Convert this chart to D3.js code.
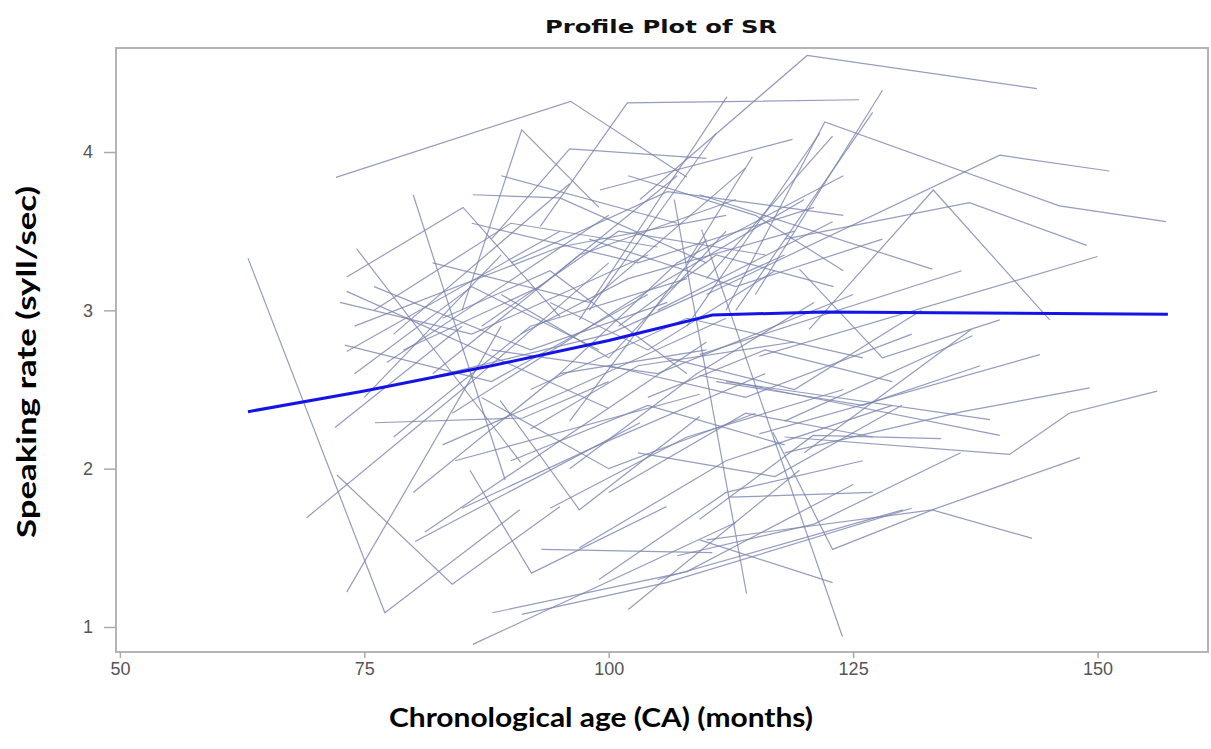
<!DOCTYPE html>
<html>
<head>
<meta charset="utf-8">
<script src="https://cdn.jsdelivr.net/npm/d3@7"></script>
<style>
  body { margin: 0; background: #fff; }
</style>
</head>
<body>
<div id="chart"></div>
<script>
// ages (months) and speaking rates for each child, same index in both lists
const subjectAges = [
    [72.1, 96.1, 108.0], [93.0, 101.9, 125.6], [103.2, 120.3, 143.8], [112.0, 122.1, 146.1, 157.0],
    [110.0, 140.0, 151.2], [118.0, 136.9, 148.9], [120.5, 133.2, 145.1], [109.3, 133.1],
    [109.3, 136.1], [115.4, 150.0], [115.4, 144.1], [118.0, 141.0, 147.1, 156.1],
    [118.0, 136.2, 149.2], [110.0, 133.1, 148.2], [116.8, 122.9, 133.1, 143.3], [109.5, 123.9],
    [106.7, 114.1], [109.3, 122.9], [119.5, 128.0, 140.0], [112.4, 127.0],
    [85.8, 92.1, 105.9], [93.1, 110.6], [88.9, 97.0, 109.3], [86.1, 113.0],
    [91.1, 105.9, 131.0], [102.0, 119.5], [63.1, 77.1, 90.9], [73.2, 89.0],
    [69.1, 86.0, 100.0], [72.2, 84.0, 95.0], [72.0, 85.0], [76.1, 91.2, 100.0],
    [73.2, 95.0], [73.0, 88.0, 104.0], [77.3, 100.0], [84.3, 109.3],
    [80.2, 103.2], [81.2, 110.0], [88.1, 108.0, 125.0], [73.2, 85.1, 95.0],
    [74.2, 91.0], [80.0, 89.4], [73.2, 100.0], [86.1, 95.0, 110.0],
    [85.0, 91.1, 99.0], [97.0, 112.1], [88.0, 96.0, 110.0], [98.0, 111.0],
    [99.1, 118.8], [108.0, 114.7], [115.0, 128.0], [113.0, 127.0],
    [108.0, 121.6], [110.0, 122.9], [105.0, 122.9], [120.0, 137.1],
    [118.0, 137.2], [112.0, 139.0], [109.3, 140.0], [109.3, 120.9, 134.0],
    [105.0, 130.1], [72.5, 86.0, 104.0], [74.0, 95.0, 112.0], [76.0, 92.0, 106.0],
    [78.0, 96.0], [80.0, 100.0, 118.0], [82.0, 98.0, 114.0], [84.0, 102.0, 120.0],
    [86.0, 103.0, 121.0], [88.0, 105.0, 125.0], [90.0, 106.0, 124.0], [92.0, 108.0, 126.0],
    [94.0, 104.0, 117.0], [96.0, 110.0], [98.0, 113.0, 128.0], [100.0, 114.0, 131.0],
    [102.0, 115.0, 124.0], [90.0, 104.0, 118.0], [85.0, 99.0, 116.0], [94.0, 108.0, 124.0],
    [97.0, 112.0, 129.0], [80.0, 95.0, 110.0], [103.0, 117.0, 130.0], [106.0, 119.0, 132.0],
    [83.0, 94.0, 108.0], [75.0, 89.0], [99.0, 112.0, 126.0], [107.0, 121.0, 136.0],
    [111.0, 126.0, 138.0], [89.0, 107.0], [76.0, 90.0, 105.0], [79.0, 93.0, 107.0],
    [82.0, 97.0, 113.0], [87.0, 101.0, 116.0], [91.0, 102.0, 119.0], [95.0, 107.0, 124.0],
    [78.0, 92.0, 108.0], [83.0, 96.0, 112.0], [87.0, 100.0, 115.0], [92.0, 103.0, 119.0],
    [96.0, 109.0, 121.0], [100.0, 114.0, 127.0], [104.0, 116.0, 129.0], [74.0, 86.0, 99.0],
    [89.0, 100.0, 112.0], [101.0, 111.0, 123.0]
];
const subjectRates = [
    [3.84, 4.32, 3.84], [3.53, 4.31, 4.33], [3.70, 4.61, 4.40], [3.00, 4.19, 3.66, 3.56],
    [3.10, 3.98, 3.88], [3.45, 3.68, 3.41], [2.88, 3.76, 2.94], [3.73, 3.26],
    [2.72, 3.25], [2.71, 3.34], [2.22, 2.72], [2.20, 2.09, 2.35, 2.49],
    [2.10, 2.36, 2.51], [1.55, 1.74, 2.07], [2.23, 1.49, 1.74, 1.56], [3.51, 0.94],
    [3.70, 1.21], [1.55, 1.28], [3.26, 2.70, 2.94], [1.82, 1.85],
    [1.99, 1.34, 1.76], [1.49, 1.47], [2.43, 1.74, 2.33], [0.89, 1.66],
    [1.08, 1.28, 1.75], [1.11, 1.99], [3.33, 1.09, 1.74], [1.22, 2.90],
    [1.69, 2.55, 3.30], [1.96, 1.27, 1.76], [2.26, 2.90], [2.29, 2.32, 2.55],
    [2.74, 3.50], [2.78, 2.55, 3.10], [2.67, 3.60], [2.05, 2.47],
    [1.54, 2.29], [1.60, 2.80], [1.09, 1.35, 1.90], [3.21, 3.65, 2.96],
    [3.39, 2.04], [3.73, 1.93], [3.12, 2.38], [3.73, 3.71, 3.30],
    [3.00, 4.14, 3.65], [2.94, 4.35], [3.45, 4.02, 3.96], [3.00, 4.12],
    [3.76, 4.08], [3.30, 3.97], [3.10, 4.39], [3.00, 4.25],
    [2.90, 4.12], [3.20, 4.10], [3.00, 3.56], [2.10, 2.88],
    [2.30, 2.84], [2.55, 2.31], [2.59, 2.21], [1.68, 2.21, 2.19],
    [1.30, 1.74], [3.05, 2.85, 3.35], [2.90, 3.40, 3.60], [3.15, 2.75, 3.05],
    [2.85, 3.80], [2.55, 2.85, 3.35], [3.30, 3.05, 3.90], [2.35, 3.05, 3.70],
    [3.55, 3.30, 3.65], [2.75, 2.60, 3.10], [3.30, 3.75, 3.60], [2.50, 2.95, 2.70],
    [3.05, 2.75, 3.25], [2.30, 3.45], [3.45, 3.15, 3.45], [2.65, 2.45, 2.85],
    [3.85, 3.60, 3.25], [2.05, 2.40, 2.15], [1.75, 2.15, 2.60], [1.75, 2.20, 2.50],
    [1.50, 2.05, 2.40], [1.85, 2.60, 2.75], [2.10, 1.95, 2.40], [2.70, 2.50, 3.00],
    [2.95, 3.25, 2.60], [2.45, 3.35], [1.30, 1.85, 2.05], [1.45, 1.65, 2.10],
    [2.55, 2.40, 2.65], [3.85, 3.55], [3.00, 3.55, 3.40], [2.75, 3.15, 3.85],
    [2.60, 3.35, 3.70], [2.90, 3.50, 3.35], [2.85, 3.20, 3.50], [2.60, 3.30, 3.85],
    [2.20, 2.90, 3.20], [2.15, 2.50, 2.95], [2.45, 2.00, 2.35], [2.25, 2.65, 2.80],
    [2.00, 2.60, 3.05], [1.85, 2.35, 2.20], [2.45, 2.75, 2.55], [2.60, 3.15, 2.75],
    [3.10, 2.70, 3.50], [2.90, 3.35, 3.15]
];

// overall mean profile
const meanAges = [63.1, 75, 88, 100, 110.6, 122, 157.2];
const meanRates = [2.36, 2.49, 2.65, 2.81, 2.97, 2.99, 2.975];

const xTicks = [50, 75, 100, 125, 150];
const yTicks = [1, 2, 3, 4];

function init() {
    const w = 1211;
    const h = 749;
    const left = 116, right = 1208, top = 48, bottom = 652;

    const x = d3.scaleLinear().domain([49.6, 161.3]).range([left, right]);
    const y = d3.scaleLinear().domain([0.842, 4.657]).range([bottom, top]);

    const svg = d3.select("#chart")
        .append("svg")
        .attr("width", w)
        .attr("height", h);

    const line = d3.line()
        .x(function (d) { return x(d[0]); })
        .y(function (d) { return y(d[1]); });

    let profiles = [];
    for (let i = 0; i < subjectAges.length; i++) {
        profiles.push(subjectAges[i].map(function (a, j) { return [a, subjectRates[i][j]]; }));
    }

    svg.append("g")
        .selectAll("path")
        .data(profiles)
        .enter()
        .append("path")
        .attr("d", line)
        .attr("fill", "none")
        .attr("stroke", "#7a83ad")
        .attr("stroke-opacity", 0.8)
        .attr("stroke-width", 1.2);

    const meanData = meanAges.map(function (a, i) { return [a, meanRates[i]]; });
    svg.append("path")
        .datum(meanData)
        .attr("d", line)
        .attr("fill", "none")
        .attr("stroke", "#1414e6")
        .attr("stroke-width", 3);

    // frame
    svg.append("rect")
        .attr("x", left)
        .attr("y", top)
        .attr("width", right - left)
        .attr("height", bottom - top)
        .attr("fill", "none")
        .attr("stroke", "#b4b4b4")
        .attr("stroke-width", 2);

    const xAxis = svg.append("g")
        .attr("transform", "translate(0," + bottom + ")")
        .call(d3.axisBottom(x).tickValues(xTicks).tickSize(6).tickPadding(4).tickSizeOuter(0));
    const yAxis = svg.append("g")
        .attr("transform", "translate(" + left + ",0)")
        .call(d3.axisLeft(y).tickValues(yTicks).tickFormat(d3.format("d")).tickSize(12).tickPadding(11).tickSizeOuter(0));

    [xAxis, yAxis].forEach(function (g) {
        g.select(".domain").remove();
        g.selectAll(".tick line").attr("stroke", "#aaaaaa").attr("stroke-width", 1.5);
        g.selectAll(".tick text")
            .attr("fill", "#555")
            .style("font-family", "'Liberation Sans', Arial, sans-serif")
            .style("font-size", "18px");
    });

    svg.append("text")
        .attr("x", 661)
        .attr("y", 33)
        .attr("text-anchor", "middle")
        .attr("textLength", 232)
        .attr("lengthAdjust", "spacingAndGlyphs")
        .style("font-family", "'DejaVu Sans', sans-serif")
        .style("font-weight", "bold")
        .style("font-size", "18px")
        .attr("fill", "#111")
        .text("Profile Plot of SR");

    svg.append("text")
        .attr("x", 601)
        .attr("y", 727)
        .attr("text-anchor", "middle")
        .attr("textLength", 424)
        .attr("lengthAdjust", "spacingAndGlyphs")
        .style("font-family", "Lato, sans-serif")
        .style("font-weight", "bold")
        .style("font-size", "26px")
        .attr("fill", "#000")
        .text("Chronological age (CA) (months)");

    svg.append("text")
        .attr("transform", "translate(36,362) rotate(-90)")
        .attr("text-anchor", "middle")
        .attr("textLength", 352)
        .attr("lengthAdjust", "spacingAndGlyphs")
        .style("font-family", "Lato, sans-serif")
        .style("font-weight", "bold")
        .style("font-size", "26px")
        .attr("fill", "#000")
        .text("Speaking rate (syll/sec)");
}

window.onload = init;
</script>
</body>
</html>
